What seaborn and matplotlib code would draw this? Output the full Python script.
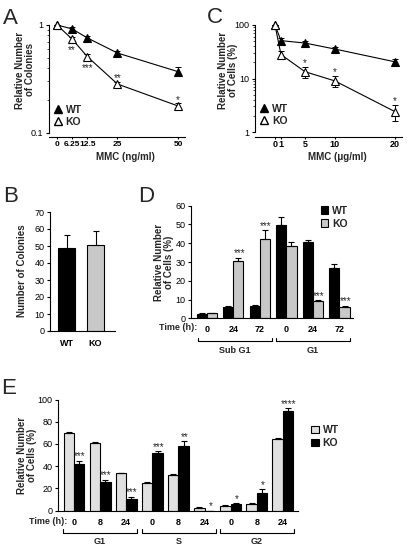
import matplotlib
matplotlib.use("Agg")
import matplotlib.pyplot as plt
import matplotlib.ticker as mticker
from matplotlib.lines import Line2D
import numpy as np
import pandas as pd
import seaborn as sns

# ---------------- data ----------------
# Panel A : colony survival vs MMC (ng/ml)
a_dose = [0, 6.25, 12.5, 25, 50]
a_dose_labels = ["0", "6.25", "12.5", "25", "50"]
a_wt = [1.0, 0.92, 0.76, 0.55, 0.37]
a_wt_err = [0.0, 0.035, 0.03, 0.03, 0.035]
a_ko = [1.0, 0.74, 0.51, 0.284, 0.178]
a_ko_err = [0.0, 0.035, 0.025, 0.015, 0.01]
a_stars = ["", "**", "***", "**", "*"]
a_star_side = ["", "below", "below", "above", "above"]
a_yticks = [0.1, 1]
a_ytick_labels = ["0.1", "1"]

# Panel C : relative cells vs MMC (ug/ml)
c_dose = [0, 1, 5, 10, 20]
c_dose_labels = ["0", "1", "5", "10", "20"]
c_wt = [100, 51, 46, 35.5, 20.5]
c_wt_err = [0, 6, 4.5, 3.5, 2.5]
c_ko = [100, 28, 13.4, 9.0, 2.4]
c_ko_err = [0, 5, 3, 2, 0.8]
c_stars = ["", "", "*", "*", "*"]
c_yticks = [1, 10, 100]
c_ytick_labels = ["1", "10", "100"]

# Panel B : number of colonies
b_geno = ["WT", "KO"]
b_vals = [48.6, 50.7]
b_err = [7.9, 7.9]
b_yticks = [0, 10, 20, 30, 40, 50, 60, 70]

# Panel D : sub G1 / G1 over time
d_keys = ["SubG1-0", "SubG1-24", "SubG1-72", "G1-0", "G1-24", "G1-72"]
d_time_labels = ["0", "24", "72", "0", "24", "72"]
d_phases = ["Sub G1", "G1"]
d_wt = [2.3, 5.9, 6.7, 49.7, 40.5, 27.0]
d_wt_err = [0.3, 0.5, 0.6, 4.2, 1.4, 2.0]
d_ko = [2.6, 30.5, 42.4, 38.4, 9.0, 6.2]
d_ko_err = [0.4, 1.8, 4.6, 2.2, 0.5, 0.5]
d_stars = ["", "***", "***", "", "***", "***"]
d_yticks = [0, 10, 20, 30, 40, 50, 60]

# Panel E : cell-cycle phases over time
e_keys = ["G1-0", "G1-8", "G1-24", "S-0", "S-8", "S-24", "G2-0", "G2-8", "G2-24"]
e_time_labels = ["0", "8", "24", "0", "8", "24", "0", "8", "24"]
e_phases = ["G1", "S", "G2"]
e_wt = [70.0, 61.0, 33.5, 25.3, 32.5, 2.1, 4.2, 6.0, 64.3]
e_wt_err = [0.8, 0.7, 0.7, 0.6, 0.6, 1.4, 0.5, 0.6, 1.2]
e_ko = [42.3, 26.0, 10.2, 51.8, 58.3, 0.0, 6.2, 16.0, 90.0]
e_ko_err = [2.5, 2.0, 2.2, 1.8, 4.4, 0.0, 0.6, 3.5, 2.0]
e_stars = ["***", "***", "***", "***", "**", "*", "*", "*", "****"]
e_yticks = [0, 20, 40, 60, 80, 100]

# ---------------- style ----------------
sns.set_theme(style="ticks")
plt.rcParams["font.family"] = ["Liberation Sans", "DejaVu Sans"]
plt.rcParams["axes.linewidth"] = 0.8
plt.rcParams["xtick.major.width"] = 0.8
plt.rcParams["ytick.major.width"] = 0.8
plt.rcParams["xtick.major.size"] = 2.5
plt.rcParams["ytick.major.size"] = 2.5
plt.rcParams["axes.edgecolor"] = "black"
plt.rcParams["xtick.color"] = "black"
plt.rcParams["ytick.color"] = "black"

W, H = 410, 546
fig = plt.figure(figsize=(W / 100, H / 100), dpi=100)

BLACK = "#000000"
GRAY_D = "#c8c8c8"
GRAY_E = "#e0e0e0"
TICK_FS = 6.5
XT_FS = 6.5
LAB_FS = 7
STAR_FS = 7


def box(l, t, r, b):
    return [l / W, 1 - b / H, (r - l) / W, (b - t) / H]


def style_axis(ax):
    ax.spines["top"].set_visible(False)
    ax.spines["right"].set_visible(False)
    ax.tick_params(axis="y", labelsize=TICK_FS, pad=1.5)
    ax.tick_params(axis="x", labelsize=XT_FS, pad=1.5)
    for t in ax.get_xticklabels():
        t.set_fontweight("bold")


def ylabel_at(ax, text, cx, cy):
    ax.set_ylabel(text, fontsize=LAB_FS, fontweight="bold", linespacing=1.0)
    ax.yaxis.label.set_va("center")
    ax.yaxis.label.set_ha("center")
    bb = ax.get_position()
    fx, fy = cx / W, 1 - cy / H
    ax.yaxis.set_label_coords((fx - bb.x0) / bb.width, (fy - bb.y0) / bb.height)


def xlabel_at(ax, text, cx, cy):
    ax.set_xlabel(text, fontsize=LAB_FS, fontweight="bold")
    ax.xaxis.label.set_va("center")
    bb = ax.get_position()
    fx, fy = cx / W, 1 - cy / H
    ax.xaxis.set_label_coords((fx - bb.x0) / bb.width, (fy - bb.y0) / bb.height)


def fig_text(x, y, s, **kw):
    fig.text(x / W, 1 - y / H, s, **kw)


def line_panel(ax, dose, wt, wt_err, ko, ko_err):
    df = pd.DataFrame({"dose": dose * 2, "value": wt + ko,
                       "geno": ["WT"] * len(dose) + ["KO"] * len(dose)})
    for g, face in (("WT", BLACK), ("KO", "white")):
        sns.lineplot(data=df[df.geno == g], x="dose", y="value", ax=ax,
                     color=BLACK, lw=0.8, marker="^", markersize=6,
                     markerfacecolor=face, markeredgecolor=BLACK,
                     markeredgewidth=0.8, errorbar=None, clip_on=False,
                     zorder=4, legend=False)
    for vals, errs in ((wt, wt_err), (ko, ko_err)):
        ax.errorbar(dose, vals, yerr=errs, fmt="none", ecolor=BLACK,
                    elinewidth=0.7, capsize=2.5, capthick=0.7, zorder=3,
                    clip_on=False)
    handles = [Line2D([], [], ls="none", marker="^", color=BLACK, ms=5.5,
                      mfc=BLACK, mec=BLACK),
               Line2D([], [], ls="none", marker="^", color=BLACK, ms=5.5,
                      mfc="white", mec=BLACK)]
    ax.legend(handles, ["WT", "KO"], loc="lower left",
              bbox_to_anchor=(0.03, 0.06), frameon=False, handlelength=0.9,
              handletextpad=0.3, labelspacing=0.15, borderpad=0,
              borderaxespad=0, prop={"weight": "bold", "size": 7.5})
    ax.set_yscale("log")
    ax.yaxis.set_minor_formatter(mticker.NullFormatter())
    ax.tick_params(axis="y", which="minor", length=1.2, width=0.5)
    ax.set_xlabel("")
    ax.set_ylabel("")


def bar_errors(ax, containers, errs_by_hue):
    for cont, errs in zip(containers, errs_by_hue):
        xs = [p.get_x() + p.get_width() / 2 for p in cont.patches]
        ys = [p.get_height() for p in cont.patches]
        ax.errorbar(xs, ys, yerr=[np.zeros(len(errs)), errs], fmt="none",
                    ecolor=BLACK, elinewidth=0.8, capsize=2, capthick=0.8,
                    zorder=3)


def bar_stars(ax, cont, vals, errs, stars):
    for p, v, e, s in zip(cont.patches, vals, errs, stars):
        if s:
            ax.annotate(s, (p.get_x() + p.get_width() / 2, v + e),
                        xytext=(0.5, 1.0), textcoords="offset points",
                        ha="center", va="baseline", fontsize=STAR_FS)


# ---------------- Panel A ----------------
axA = fig.add_axes(box(49, 25, 185, 133))
line_panel(axA, a_dose, a_wt, a_wt_err, a_ko, a_ko_err)
axA.set_xlim(-3.31, 52.9)
axA.set_ylim(0.1, 1.0)
axA.set_xticks(a_dose)
axA.set_xticklabels(a_dose_labels)
axA.set_yticks(a_yticks)
axA.set_yticklabels(a_ytick_labels)
axA.spines["bottom"].set_position(("outward", 3))
style_axis(axA)
axA.tick_params(axis="x", length=1.5, pad=1.0, labelsize=6)
for x, v, e, s, side in zip(a_dose, a_ko, a_ko_err, a_stars, a_star_side):
    if s:
        if side == "above":
            axA.annotate(s, (x, v + e), xytext=(0, 0.5), textcoords="offset points",
                         ha="center", va="baseline", fontsize=STAR_FS)
        else:
            axA.annotate(s, (x, v - e), xytext=(0, -8.5), textcoords="offset points",
                         ha="center", va="baseline", fontsize=STAR_FS)
ylabel_at(axA, "Relative Number\nof Colonies", 25, 70)
xlabel_at(axA, "MMC (ng/ml)", 125, 157)

# ---------------- Panel C ----------------
axC = fig.add_axes(box(255, 25, 402, 132))
line_panel(axC, c_dose, c_wt, c_wt_err, c_ko, c_ko_err)
axC.set_xlim(-3.33, 21.17)
axC.set_ylim(1, 100)
axC.set_xticks(c_dose)
axC.set_xticklabels(c_dose_labels)
axC.set_yticks(c_yticks)
axC.set_yticklabels(c_ytick_labels)
axC.spines["bottom"].set_position(("outward", 3.5))
style_axis(axC)
axC.tick_params(axis="x", length=1.5, pad=1.0)
for x, v, e, s in zip(c_dose, c_ko, c_ko_err, c_stars):
    if s:
        axC.annotate(s, (x, v + e), xytext=(0, 1), textcoords="offset points",
                     ha="center", va="baseline", fontsize=STAR_FS)
ylabel_at(axC, "Relative Number\nof Cells (%)", 228, 70)
xlabel_at(axC, "MMC (\u03bcg/ml)", 337, 157)

# ---------------- Panel B ----------------
axB = fig.add_axes(box(50, 212, 115, 331))
dfB = pd.DataFrame({"geno": b_geno, "value": b_vals})
sns.barplot(data=dfB, x="geno", y="value", hue="geno",
            palette={"WT": BLACK, "KO": GRAY_D}, edgecolor=BLACK,
            linewidth=0.8, width=0.59, errorbar=None, legend=False, ax=axB)
contB = list(axB.containers)
bar_errors(axB, contB, [[b_err[0]], [b_err[1]]])
axB.set_xlim(-0.569, 1.672)
axB.set_ylim(0, 70)
axB.set_yticks(b_yticks)
axB.set_xlabel("")
style_axis(axB)
axB.tick_params(axis="x", length=0, pad=5.5)
ylabel_at(axB, "Number of Colonies", 22, 271)

# ---------------- Panel D ----------------
axD = fig.add_axes(box(191, 205.7, 353, 318.3))
dfD = pd.DataFrame({"key": d_keys * 2, "value": d_wt + d_ko,
                    "geno": ["WT"] * 6 + ["KO"] * 6})
sns.barplot(data=dfD, x="key", y="value", hue="geno", hue_order=["WT", "KO"],
            palette={"WT": BLACK, "KO": GRAY_D}, edgecolor=BLACK,
            linewidth=0.8, width=0.76, errorbar=None, ax=axD)
contD = list(axD.containers)
bar_errors(axD, contD, [d_wt_err, d_ko_err])
bar_stars(axD, contD[1], d_ko, d_ko_err, d_stars)
axD.set_xlim(-0.6, 5.51)
axD.set_ylim(0, 60)
axD.set_yticks(d_yticks)
axD.set_xticks(range(len(d_keys)))
axD.set_xticklabels(d_time_labels)
axD.set_xlabel("")
style_axis(axD)
axD.tick_params(axis="x", length=0, pad=4.5)
h, l = axD.get_legend_handles_labels()
axD.legend(h, l, loc="upper left", bbox_to_anchor=(0.80, 1.0), frameon=False,
           handlelength=0.75, handleheight=0.75, handletextpad=0.35,
           labelspacing=0.3, borderpad=0, borderaxespad=0,
           prop={"weight": "bold", "size": 7.5})
ylabel_at(axD, "Relative Number\nof Cells (%)", 164, 262)
fig_text(197, 328, "Time (h):", ha="right", va="center", fontsize=XT_FS,
         fontweight="bold")
tD = axD.get_xaxis_transform()
for (x0, x1), name in zip([(-0.34, 2.45), (2.6, 5.4)], d_phases):
    axD.plot([x0, x0, x1, x1], [-0.175, -0.2, -0.2, -0.175], color=BLACK,
             lw=0.8, transform=tD, clip_on=False)
    axD.text((x0 + x1) / 2, -0.285, name, transform=tD, ha="center",
             va="center", fontsize=XT_FS, fontweight="bold")

# ---------------- Panel E ----------------
axE = fig.add_axes(box(58, 399.5, 298, 510.7))
dfE = pd.DataFrame({"key": e_keys * 2, "value": e_wt + e_ko,
                    "geno": ["WT"] * 9 + ["KO"] * 9})
sns.barplot(data=dfE, x="key", y="value", hue="geno", hue_order=["WT", "KO"],
            palette={"WT": GRAY_E, "KO": BLACK}, edgecolor=BLACK,
            linewidth=0.8, width=0.8, errorbar=None, ax=axE)
contE = list(axE.containers)
bar_errors(axE, contE, [e_wt_err, e_ko_err])
bar_stars(axE, contE[1], e_ko, e_ko_err, e_stars)
axE.set_xlim(-0.613, 8.58)
axE.set_ylim(0, 100)
axE.set_yticks(e_yticks)
axE.set_xticks(range(len(e_keys)))
axE.set_xticklabels(e_time_labels)
axE.set_xlabel("")
style_axis(axE)
axE.tick_params(axis="x", length=0, pad=5)
h, l = axE.get_legend_handles_labels()
axE.legend(h, l, loc="upper left", bbox_to_anchor=(1.055, 0.77), frameon=False,
           handlelength=0.75, handleheight=0.75, handletextpad=0.35,
           labelspacing=0.3, borderpad=0, borderaxespad=0,
           prop={"weight": "bold", "size": 7.5})
ylabel_at(axE, "Relative Number\nof Cells (%)", 27, 455)
fig_text(67, 521.7, "Time (h):", ha="right", va="center", fontsize=XT_FS,
         fontweight="bold")
tE = axE.get_xaxis_transform()
for (x0, x1), name in zip([(-0.42, 2.41), (2.6, 5.44), (5.59, 8.43)], e_phases):
    axE.plot([x0, x0, x1, x1], [-0.165, -0.2, -0.2, -0.165], color=BLACK,
             lw=0.8, transform=tE, clip_on=False)
    axE.text((x0 + x1) / 2, -0.28, name, transform=tE, ha="center",
             va="center", fontsize=XT_FS, fontweight="bold")

# ---------------- panel letters ----------------
for x, y, s in [(3, 24, "A"), (207, 23, "C"), (3, 202, "B"), (138, 202, "D"),
                (1, 394, "E")]:
    fig_text(x, y, s, ha="left", va="baseline", fontsize=16)

fig.savefig("out.png", dpi=100, facecolor="white")
